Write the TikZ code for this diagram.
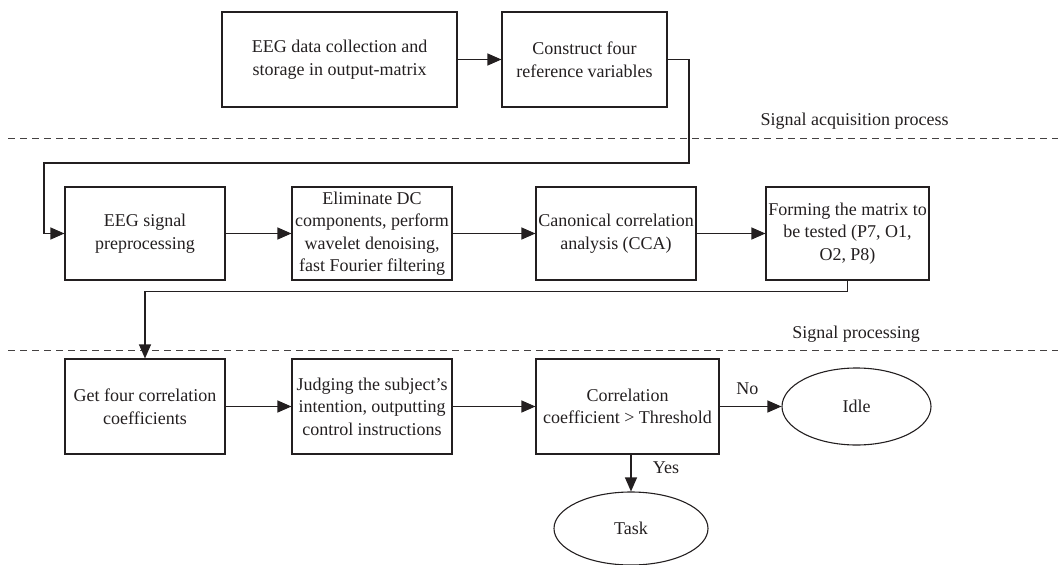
\documentclass[tikz,border=0pt]{standalone}
\usepackage{fontspec}
\setmainfont{Liberation Serif}
\usetikzlibrary{arrows.meta,shapes.geometric}
\definecolor{ink}{HTML}{231F20}
\begin{document}
\begin{tikzpicture}[x=1pt,y=-1pt,
  txt/.style={text=ink, font=\fontsize{18}{22.5}\selectfont},
  box/.style={txt, draw=ink, line width=1.1pt, rectangle, inner sep=0pt, align=center},
  ell/.style={txt, draw=ink, line width=1.1pt, ellipse, inner sep=0pt},
  arr/.style={draw=ink, line width=1.1pt, -{Triangle[length=14pt,width=12pt]}},
  sep/.style={draw=ink!85, line width=1pt, dash pattern=on 7pt off 5pt}]
\useasboundingbox (0,0) rectangle (1058,565);
% separators
\draw[sep] (8,138) -- (1058,138);
\draw[sep] (8,350) -- (1058,350);
\node[txt] (l1) at (854.5,121) {Signal acquisition process};
\node[txt] (l2) at (856,334) {Signal processing};
% row 1
\node[box, minimum width=235, minimum height=95] (b1) at (339.5,59.5) {EEG data collection and\\storage in output-matrix};
\node[box, minimum width=165, minimum height=95] (b2) at (584.5,59.5) {Construct four\\reference variables};
% row 2
\node[box, minimum width=160, minimum height=93] (b3) at (145,233.5) {EEG signal\\preprocessing};
\node[box, minimum width=160, minimum height=93] (b4) at (372,233.5) {Eliminate DC\\components, perform\\wavelet denoising,\\fast Fourier filtering};
\node[box, minimum width=160, minimum height=93] (b5) at (616,233.5) {Canonical correlation\\analysis (CCA)};
\node[box, minimum width=163, minimum height=93] (b6) at (847.5,233.5) {Forming the matrix to\\be tested (P7, O1,\\O2, P8)};
% row 3
\node[box, minimum width=160, minimum height=95] (b7) at (145,406.5) {Get four correlation\\coefficients};
\node[box, minimum width=160, minimum height=95] (b8) at (372,406.5) {Judging the subject's\\intention, outputting\\control instructions};
\node[box, minimum width=183, minimum height=95] (b9) at (627.5,406.5) {Correlation\\coefficient > Threshold};
\node[ell, minimum width=149, minimum height=77] (idle) at (856.5,406.5) {Idle};
\node[ell, minimum width=154, minimum height=73] (task) at (631,528.5) {Task};
% connectors
\coordinate (c1) at (689,163);
\coordinate (c2) at (44,163);
\draw[arr] (b1.east) -- (b2.west);
\draw[arr] (b2.east) -| (c1) -- (c2) |- (b3.west);
\draw[arr] (b3.east) -- (b4.west);
\draw[arr] (b4.east) -- (b5.west);
\draw[arr] (b5.east) -- (b6.west);
\draw[arr] (b6.south) -- ++(0,11) -| (b7.north);
\draw[arr] (b7.east) -- (b8.west);
\draw[arr] (b8.east) -- (b9.west);
\draw[arr] (b9.east) -- node[txt, above=8pt, pos=0.45] (no) {No} (idle.west);
\draw[arr] (b9.south -| task.north) -- node[txt, right=18pt, pos=0.35] (yes) {Yes} (task.north);
\end{tikzpicture}
\end{document}
